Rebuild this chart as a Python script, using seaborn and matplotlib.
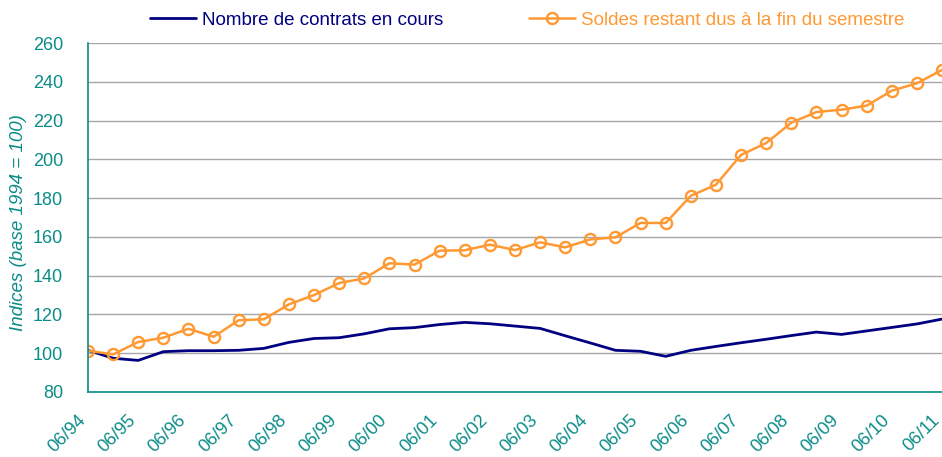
import numpy as np
import pandas as pd
import seaborn as sns
import matplotlib.pyplot as plt
import matplotlib.transforms as mtransforms

# --- Données ---
semestres = ["06/94", "12/94", "06/95", "12/95", "06/96", "12/96", "06/97", "12/97",
             "06/98", "12/98", "06/99", "12/99", "06/00", "12/00", "06/01", "12/01",
             "06/02", "12/02", "06/03", "12/03", "06/04", "12/04", "06/05", "12/05",
             "06/06", "12/06", "06/07", "12/07", "06/08", "12/08", "06/09", "12/09",
             "06/10", "12/10", "06/11"]

contrats = [101.5, 97.4, 96.3, 100.8, 101.3, 101.3, 101.5, 102.5,
            105.6, 107.6, 108.0, 110.0, 112.6, 113.2, 114.8, 115.9,
            115.2, 114.0, 112.8, 109.0, 105.3, 101.5, 101.0, 98.4,
            101.5, 103.5, 105.4, 107.2, 109.1, 110.9, 109.7, 111.5,
            113.3, 115.1, 117.6]

soldes = [101.3, 99.4, 105.8, 108.0, 112.6, 108.5, 117.0, 117.5,
          125.2, 130.0, 136.2, 138.6, 146.4, 145.7, 152.9, 153.1,
          156.0, 153.2, 157.2, 154.6, 158.7, 159.8, 167.2, 167.2,
          181.2, 186.9, 202.3, 208.4, 218.9, 224.4, 225.6, 227.7,
          235.4, 239.2, 246.1]

label_contrats = "Nombre de contrats en cours"
label_soldes = "Soldes restant dus à la fin du semestre"

df = pd.DataFrame({"idx": np.arange(len(semestres)), "semestre": semestres,
                   "contrats": contrats, "soldes": soldes})

# --- Style ---
sns.set_style("white")
plt.rcParams["font.family"] = ["Liberation Sans", "DejaVu Sans"]

teal = "#0A8C88"
navy = "#000080"
orange = "#FF9933"

fig = plt.figure(figsize=(9.42, 4.57), dpi=100)
ax = fig.add_axes([88 / 942, 1 - 392 / 457, (942 - 88) / 942, (392 - 43) / 457])

sns.lineplot(data=df, x="idx", y="contrats", ax=ax, color=navy, linewidth=2.0,
             label=label_contrats)
sns.lineplot(data=df, x="idx", y="soldes", ax=ax, color=orange, linewidth=1.8,
             marker="o", markersize=8, markerfacecolor="none",
             markeredgecolor=orange, markeredgewidth=1.7, label=label_soldes)

# --- Axes ---
ax.set_xlim(0, len(semestres) - 1)
ax.set_ylim(80, 260)
ax.set_yticks(np.arange(80, 261, 20))
ax.set_xticks(df["idx"][::2])
ax.set_xticklabels(df["semestre"][::2], rotation=45, ha="right",
                   rotation_mode="anchor")
ax.tick_params(axis="both", direction="out", length=5, width=1, color=teal,
               labelcolor=teal, labelsize=13)
ax.tick_params(axis="x", pad=9)
ax.tick_params(axis="y", pad=13)

# décalage des étiquettes obliques vers la gauche
shift = mtransforms.ScaledTranslation(-11 / 100, 0, fig.dpi_scale_trans)
for t in ax.get_xticklabels():
    t.set_transform(t.get_transform() + shift)

ax.yaxis.grid(True, color="#A6A6A6", linewidth=1.0)
ax.set_axisbelow(True)
for s in ["top", "right"]:
    ax.spines[s].set_visible(False)
for s in ["left", "bottom"]:
    ax.spines[s].set_color(teal)
    ax.spines[s].set_linewidth(1.2)

ax.set_xlabel("")
ax.set_ylabel("Indices (base 1994 = 100)", color=teal, fontsize=13.5,
              fontstyle="italic")
ax.yaxis.set_label_coords(-61 / 854, 0.485)

# --- Légende ---
ax.get_legend().remove()
h, l = ax.get_legend_handles_labels()
fig.legend(h, l, loc="center", bbox_to_anchor=(527 / 942, 1 - 20 / 457), ncol=2,
           frameon=False, fontsize=13.5, handlelength=2.45, handletextpad=0.3,
           columnspacing=4.6, labelcolor="linecolor", numpoints=1)

fig.savefig("out.png", dpi=100)
